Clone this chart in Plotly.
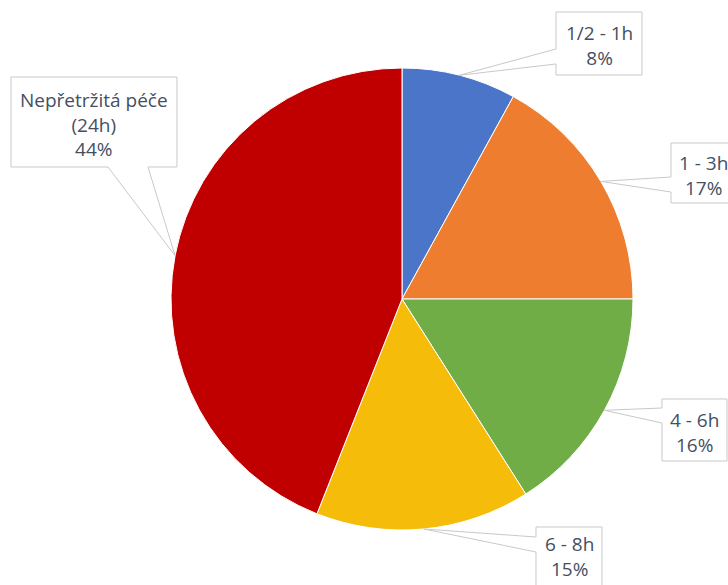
import math
import plotly.graph_objects as go

# Daily care time split
categories = ["1/2 - 1h", "1 - 3h", "4 - 6h", "6 - 8h", "Nepřetržitá péče<br>(24h)"]
shares = [8, 17, 16, 15, 44]
colors = ["#4b75c8", "#ef7d30", "#70ad47", "#f5bd0a", "#c00000"]

W, H = 728, 585
CX, CY, R = 402, 299, 231  # pie centre and radius in pixels

# callout boxes: (x0, y0, x1, y1, side, a, b, text_dy) -- wedge leaves the
# box side at positions a and b; text_dy nudges the label inside its box
boxes = [
    (556, 12, 642, 75, "left", 49, 64, 2),
    (671, 143, 735, 203, "left", 177, 192, 2),
    (662, 399, 727, 461, "left", 408, 423, 2),
    (536, 527, 602, 592, "left", 537, 552, -3),
    (11, 77, 177, 167, "bottom", 108, 148, 2),
]

TEXT = "#44505f"
EDGE = "#c9c9c9"


def px(x):
    return x / W


def py(y):
    return 1 - y / H


fig = go.Figure(
    go.Pie(
        labels=categories,
        values=shares,
        sort=False,
        direction="clockwise",
        rotation=0,
        textinfo="none",
        hoverinfo="label+percent",
        marker=dict(colors=colors, line=dict(color="white", width=1)),
        domain=dict(x=[px(CX - R), px(CX + R)], y=[py(CY + R), py(CY - R)]),
    )
)

total = sum(shares)
cum = 0
shapes, annotations = [], []
for label, v, box in zip(categories, shares, boxes):
    mid = (cum + v / 2) / total * 2 * math.pi
    cum += v
    tx = CX + R * math.sin(mid)
    ty = CY - R * math.cos(mid)
    x0, y0, x1, y1, side, a, b, dy = box
    if side == "left":
        pts = [(x0, y0), (x1, y0), (x1, y1), (x0, y1), (x0, b), (tx, ty), (x0, a)]
    else:
        pts = [(x0, y0), (x1, y0), (x1, y1), (b, y1), (tx, ty), (a, y1), (x0, y1)]
    path = "M " + " L ".join(f"{px(x):.5f},{py(y):.5f}" for x, y in pts) + " Z"
    shapes.append(dict(type="path", xref="paper", yref="paper", path=path,
                       fillcolor="white", line=dict(color=EDGE, width=1), layer="above"))
    annotations.append(dict(
        x=px((x0 + x1) / 2), y=py((y0 + y1) / 2 + dy), xref="paper", yref="paper",
        xanchor="center", yanchor="middle", showarrow=False, align="center",
        text=f"{label}<br>{v}%",
        font=dict(family="Open Sans, sans-serif", size=19, color=TEXT),
    ))

fig.update_layout(
    width=W, height=H,
    margin=dict(l=0, r=0, t=0, b=0),
    paper_bgcolor="white", plot_bgcolor="white",
    showlegend=False,
    shapes=shapes,
    annotations=annotations,
)

fig.write_html("out.html")
